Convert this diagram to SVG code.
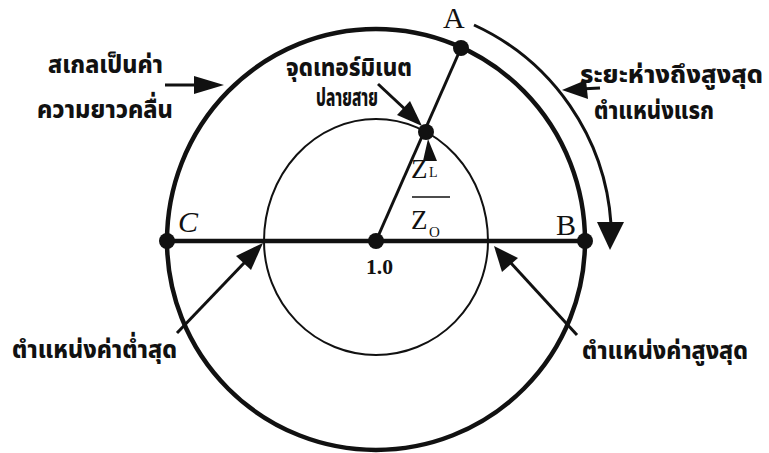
<svg xmlns="http://www.w3.org/2000/svg" width="769" height="453" viewBox="0 0 769 453">
  <style>
    .th { font-family: "Noto Sans Thai", "Noto Sans", "DejaVu Sans", sans-serif; font-weight: 800; font-size: 25px; fill: #111; }
    .ser { font-family: "Liberation Serif", "Times New Roman", serif; fill: #111; }
    .thick { fill: none; stroke: #111; stroke-width: 4.5; }
    .mid { fill: none; stroke: #111; stroke-width: 3; }
    .thin { fill: none; stroke: #111; stroke-width: 2; }
    .dot { fill: #111; }
    .head { fill: #111; stroke: none; }
  </style>
  <rect width="769" height="453" fill="#fff"/>

  <g id="outer-circle">
    <path class="thick" d="M167,241 A209,212 0 0 1 585,241 A209,209 0 0 1 167,241"/>
  </g>
  <g id="inner-circle">
    <path class="thin" d="M264,241 A112,122 0 0 1 488,241 A112,114 0 0 1 264,241"/>
  </g>

  <g id="connectors">
    <line class="thick" x1="167" y1="241" x2="585" y2="241"/>
    <line class="mid" x1="376" y1="241" x2="461" y2="48"/>
    <!-- wavelength scale arrow -->
    <line class="mid" x1="165" y1="85" x2="200" y2="85"/>
    <polygon class="head" points="224,85 194,76 194,94"/>
    <!-- distance to first max arc -->
    <path class="mid" d="M474,25 A236,236 0 0 1 611,224"/>
    <polygon class="head" points="597,222 624,222 610,250"/>
    <!-- right label arrow -->
    <line class="mid" x1="600" y1="88" x2="580" y2="89"/>
    <polygon class="head" points="562,90 586,80 588,99"/>
    <!-- terminate point arrow -->
    <line class="mid" x1="378" y1="84" x2="408" y2="112"/>
    <polygon class="head" points="422,126 397,115 410,101"/>
    <!-- small arrow under load point -->
    <polygon class="head" points="428,139 423,161 437,161"/>
    <!-- minimum arrow -->
    <line class="mid" x1="177" y1="333" x2="245" y2="262"/>
    <polygon class="head" points="263,243 236,256 251,270"/>
    <!-- maximum arrow -->
    <line class="mid" x1="577" y1="335" x2="510" y2="262"/>
    <polygon class="head" points="494,246 502,272 518,258"/>
  </g>

  <g id="point-C">
    <circle class="dot" cx="167" cy="241" r="8"/>
    <text class="ser" x="178" y="232" font-size="30" font-style="italic">C</text>
  </g>
  <g id="point-B">
    <circle class="dot" cx="585" cy="241" r="8"/>
    <text class="ser" x="556" y="235" font-size="30">B</text>
  </g>
  <g id="point-A">
    <circle class="dot" cx="461" cy="48" r="8"/>
    <text class="ser" x="443" y="28" font-size="30">A</text>
  </g>
  <g id="center">
    <circle class="dot" cx="376" cy="241" r="8"/>
    <text class="ser" x="366" y="274" font-size="21" font-weight="bold" textLength="27" lengthAdjust="spacingAndGlyphs">1.0</text>
  </g>
  <g id="load-point">
    <circle class="dot" cx="426" cy="132" r="8"/>
  </g>
  <g id="ratio">
    <text class="ser" x="411" y="178" font-size="27">Z</text>
    <text class="ser" x="429" y="177" font-size="14">L</text>
    <line x1="412" y1="197" x2="450" y2="197" stroke="#111" stroke-width="1.5"/>
    <text class="ser" x="411" y="229" font-size="27">Z</text>
    <text class="ser" x="429" y="237" font-size="15">O</text>
  </g>

  <g id="label-scale">
    <text class="th" x="48" y="73" textLength="115" lengthAdjust="spacingAndGlyphs">สเกลเป็นค่า</text>
    <text class="th" x="37" y="118" textLength="136" lengthAdjust="spacingAndGlyphs">ความยาวคลื่น</text>
  </g>
  <g id="label-terminate">
    <text class="th" x="286" y="76" font-size="23" textLength="126" lengthAdjust="spacingAndGlyphs">จุดเทอร์มิเนต</text>
    <text class="th" x="316" y="106" font-size="22" textLength="62" lengthAdjust="spacingAndGlyphs">ปลายสาย</text>
  </g>
  <g id="label-distance">
    <text class="th" x="580" y="83" textLength="183" lengthAdjust="spacingAndGlyphs">ระยะห่างถึงสูงสุด</text>
    <text class="th" x="594" y="119" textLength="120" lengthAdjust="spacingAndGlyphs">ตำแหน่งแรก</text>
  </g>
  <g id="label-min">
    <text class="th" x="12" y="358" textLength="165" lengthAdjust="spacingAndGlyphs">ตำแหน่งค่าต่ำสุด</text>
  </g>
  <g id="label-max">
    <text class="th" x="582" y="359" textLength="166" lengthAdjust="spacingAndGlyphs">ตำแหน่งค่าสูงสุด</text>
  </g>
</svg>
